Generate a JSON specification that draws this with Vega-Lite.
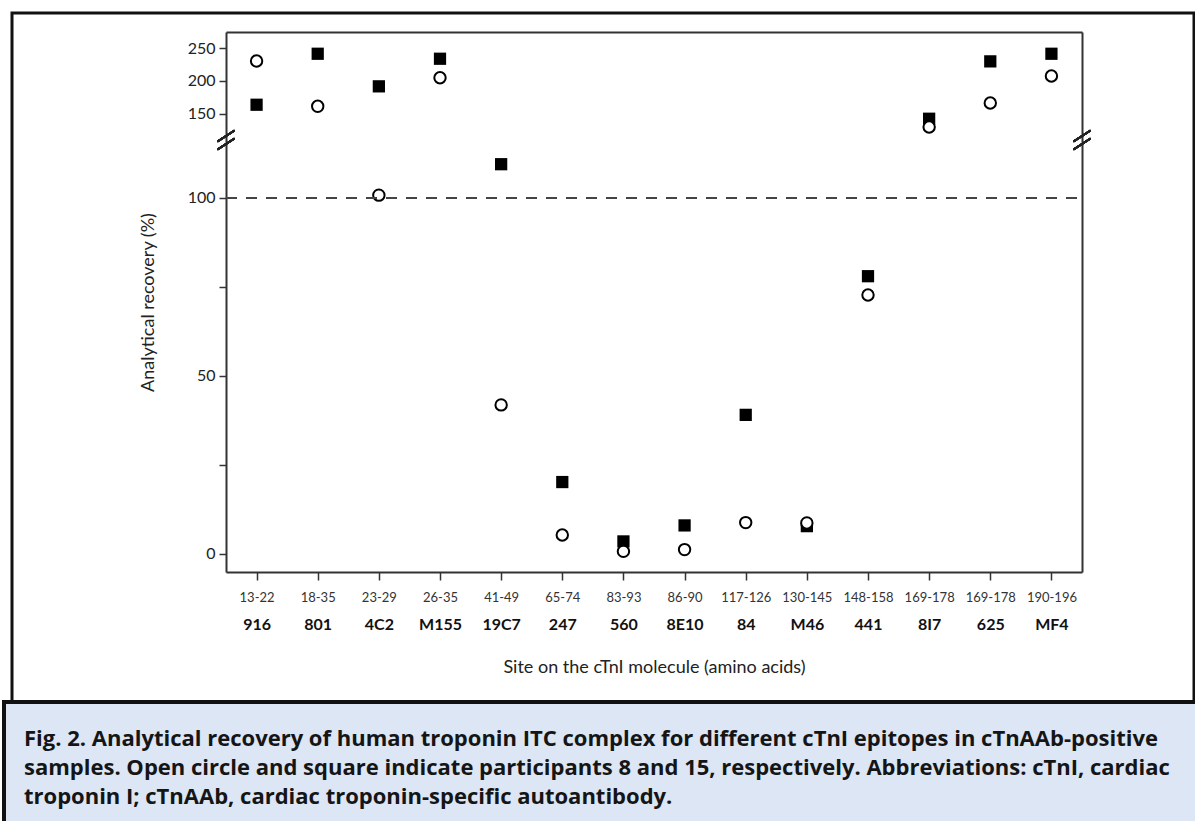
{
  "$schema": "https://vega.github.io/schema/vega-lite/v6.json",
  "padding": {"left": 2, "top": 11, "right": 0, "bottom": 0},
  "background": "white",
  "spacing": 0,
  "bounds": "flush",
  "center": true,
  "config": {
    "axis": {"grid": false},
    "font": "Lato"
  },
  "vconcat": [
    {
      "width": 1182,
      "height": 689,
      "view": {"stroke": "#111", "strokeWidth": 3, "fill": "white"},
      "data": {
        "values": [
          {"i": 0, "mab": "916", "site": "13-22", "p8": 230.2, "p15": 163.7},
          {"i": 1, "mab": "801", "site": "18-35", "p8": 161.3, "p15": 241.3},
          {"i": 2, "mab": "4C2", "site": "23-29", "p8": 100.8, "p15": 191.7},
          {"i": 3, "mab": "M155", "site": "26-35", "p8": 204.8, "p15": 233.7},
          {"i": 4, "mab": "19C7", "site": "41-49", "p8": 41.8, "p15": 109.5},
          {"i": 5, "mab": "247", "site": "65-74", "p8": 5.2, "p15": 20.1},
          {"i": 6, "mab": "560", "site": "83-93", "p8": 0.6, "p15": 3.4},
          {"i": 7, "mab": "8E10", "site": "86-90", "p8": 1.1, "p15": 7.9},
          {"i": 8, "mab": "84", "site": "117-126", "p8": 8.7, "p15": 39.0},
          {"i": 9, "mab": "M46", "site": "130-145", "p8": 8.6, "p15": 7.7},
          {"i": 10, "mab": "441", "site": "148-158", "p8": 72.7, "p15": 78.0},
          {"i": 11, "mab": "8I7", "site": "169-178", "p8": 129.8, "p15": 142.4},
          {"i": 12, "mab": "625", "site": "169-178", "p8": 166.3, "p15": 229.7},
          {"i": 13, "mab": "MF4", "site": "190-196", "p8": 207.4, "p15": 241.3}
        ]
      },
      "resolve": {"axis": {"x": "independent", "y": "independent"}},
      "layer": [
        {
          "mark": {"type": "point", "shape": "square", "filled": true, "color": "black", "size": 150, "opacity": 1},
          "encoding": {
            "x": {
              "field": "i", "type": "quantitative",
              "scale": {"domain": [-0.5, 13.5], "range": [214, 1070], "nice": false, "zero": false},
              "axis": {
                "orient": "bottom", "offset": -130, "values": [0,1,2,3,4,5,6,7,8,9,10,11,12,13],
                "labelExpr": "['13-22','18-35','23-29','26-35','41-49','65-74','83-93','86-90','117-126','130-145','148-158','169-178','169-178','190-196'][datum.value]",
                "tickSize": 8, "tickWidth": 1.5, "tickColor": "#333", "domainColor": "#333", "domainWidth": 2,
                "labelFont": "Lato", "labelFontSize": 13, "labelColor": "#333", "labelPadding": 11,
                "labelFlush": false, "labelOverlap": false, "title": null
              }
            },
            "y": {
              "field": "p15", "type": "quantitative",
              "scale": {"domain": [-5.2, 116, 128, 274.4], "range": [559, 128.1, 115.2, 19], "nice": false, "zero": false},
              "axis": {
                "orient": "left", "offset": -214, "values": [0, 25, 50, 75, 100, 150, 200, 250],
                "labelExpr": "datum.value == 25 || datum.value == 75 ? '' : datum.label",
                "tickSize": 7, "tickWidth": 1.5, "tickColor": "#333", "domainColor": "#333", "domainWidth": 2,
                "labelFont": "Lato", "labelFontSize": 16, "labelColor": "#222", "labelPadding": 4,
                "labelFlush": false, "labelOverlap": false,
                "title": "Analytical recovery (%)", "titleFont": "Lato", "titleFontSize": 18, "titleFontWeight": "normal",
                "titleColor": "#222", "titlePadding": 30
              }
            }
          }
        },
        {
          "mark": {"type": "point", "shape": "circle", "filled": true, "fill": "white", "stroke": "black", "strokeWidth": 2, "size": 130, "opacity": 1},
          "encoding": {
            "x": {
              "field": "i", "type": "quantitative",
              "axis": {
                "orient": "bottom", "offset": -130, "values": [0,1,2,3,4,5,6,7,8,9,10,11,12,13],
                "labelExpr": "['916','801','4C2','M155','19C7','247','560','8E10','84','M46','441','8I7','625','MF4'][datum.value]",
                "ticks": false, "domain": false,
                "labelFont": "Lato", "labelFontSize": 16, "labelFontWeight": "bold", "labelColor": "#111", "labelPadding": 44,
                "labelFlush": false, "labelOverlap": false,
                "title": "Site on the cTnI molecule (amino acids)", "titleFont": "Lato", "titleFontSize": 18,
                "titleFontWeight": "normal", "titleColor": "#222", "titlePadding": 26
              }
            },
            "y": {
              "field": "p8", "type": "quantitative",
              "axis": {"orient": "right", "offset": -112, "labels": false, "ticks": false, "domain": true, "domainColor": "#333", "domainWidth": 2, "title": null}
            }
          }
        },
        {
          "mark": {"type": "rule", "color": "#444", "strokeWidth": 2, "strokeDash": [11, 9]},
          "encoding": {
            "x": {"datum": -0.5, "type": "quantitative", "axis": {"orient": "top", "offset": -19, "labels": false, "ticks": false, "domain": true, "domainColor": "#333", "domainWidth": 2, "title": null}},
            "x2": {"datum": 13.5},
            "y": {"datum": 100, "type": "quantitative", "axis": null}
          }
        },
        {
          "mark": {"type": "point", "shape": "M-0.85,0.15L0.85,-0.95M-0.85,0.95L0.85,-0.15", "filled": false, "stroke": "#222", "strokeWidth": 1.6, "size": 400, "opacity": 1},
          "encoding": {
            "x": {"datum": -0.5, "type": "quantitative", "axis": null},
            "y": {"datum": 117, "type": "quantitative", "axis": null}
          }
        },
        {
          "mark": {"type": "point", "shape": "M-0.85,0.15L0.85,-0.95M-0.85,0.95L0.85,-0.15", "filled": false, "stroke": "#222", "strokeWidth": 1.6, "size": 400, "opacity": 1},
          "encoding": {
            "x": {"datum": 13.5, "type": "quantitative", "axis": null},
            "y": {"datum": 117, "type": "quantitative", "axis": null}
          }
        }
      ]
    },
    {
      "width": 1198,
      "height": 124,
      "view": {"stroke": "#111", "strokeWidth": 4, "fill": "#dce6f5"},
      "data": {
        "values": [
          {"line": 1, "text": "Fig. 2.  Analytical recovery of human troponin ITC complex for different cTnI epitopes in cTnAAb-positive"},
          {"line": 2, "text": "samples. Open circle and square indicate participants 8 and 15, respectively. Abbreviations: cTnI, cardiac"},
          {"line": 3, "text": "troponin I; cTnAAb, cardiac troponin-specific autoantibody."}
        ]
      },
      "mark": {"type": "text", "align": "left", "baseline": "middle", "font": "Open Sans", "fontSize": 22, "fontWeight": "bold", "color": "#151515"},
      "encoding": {
        "x": {"datum": 0, "type": "quantitative", "scale": {"domain": [-0.01697, 1], "nice": false, "zero": false}, "axis": null},
        "y": {"field": "line", "type": "quantitative", "scale": {"domain": [-0.276, 4.0], "reverse": true, "nice": false, "zero": false}, "axis": null},
        "text": {"field": "text"}
      }
    }
  ]
}
